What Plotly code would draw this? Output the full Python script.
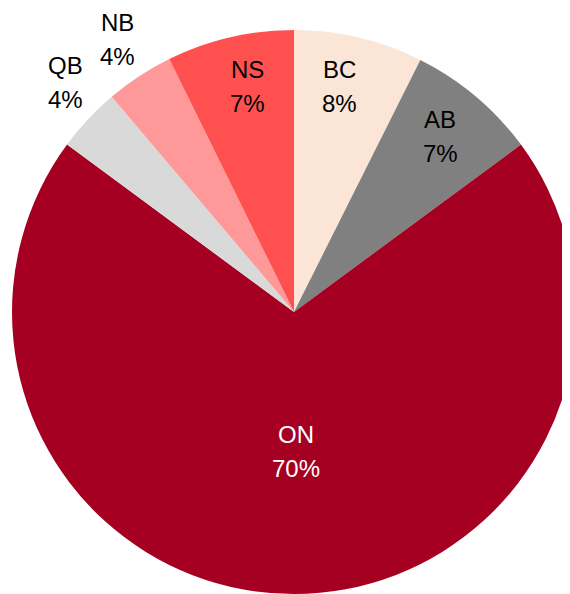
import math
import plotly.graph_objects as go

labels = ["BC", "AB", "ON", "QB", "NB", "NS"]
values = [7.4, 7.5, 70.3, 3.7, 3.9, 7.3]
pct_text = ["8%", "7%", "70%", "4%", "4%", "7%"]
colors = ["#FBE5D6", "#808080", "#A50021", "#D9D9D9", "#FF9999", "#FF5050"]
text_colors = ["black", "black", "white", "black", "black", "black"]

# label placement - style, not data
label_radius = [0.816, 0.811, 0.495, 1.149, 1.152, 0.816]   # fraction of radius
label_angle_frac = [0.43, 0.485, 0.496, 0.65, 0.52, 0.56]    # position within slice
line_gap = 34  # px between the two text lines

W, H = 570, 594
dom_x = [4 / W, 568 / W]
dom_y = [8 / H, 572 / H]

fig = go.Figure(go.Pie(
    labels=labels,
    values=values,
    textinfo="none",
    marker=dict(colors=colors, line=dict(width=0)),
    sort=False,
    direction="clockwise",
    rotation=0,
    showlegend=False,
    hoverinfo="label+percent",
    domain=dict(x=dom_x, y=dom_y),
))

# pie geometry in pixels (plotly: radius = half of smaller domain side)
dw = (dom_x[1] - dom_x[0]) * W
dh = (dom_y[1] - dom_y[0]) * H
R = min(dw, dh) / 2
cx = (dom_x[0] + dom_x[1]) / 2 * W
cy = (dom_y[0] + dom_y[1]) / 2 * H  # from bottom

total = sum(values)
cum = 0.0
for lab, val, pct, tc, rf, af in zip(labels, values, pct_text, text_colors,
                                      label_radius, label_angle_frac):
    ang = (cum + val * af) / total * 2 * math.pi
    cum += val
    px = cx + rf * R * math.sin(ang)
    py = cy + rf * R * math.cos(ang)
    for txt, off in ((lab, line_gap / 2), (pct, -line_gap / 2)):
        fig.add_annotation(
            x=px / W, y=(py + off) / H, xref="paper", yref="paper",
            text=txt, showarrow=False,
            xanchor="center", yanchor="middle", align="center",
            font=dict(family="Liberation Sans", size=24, color=tc),
        )

fig.update_layout(
    width=W, height=H,
    margin=dict(l=0, r=0, t=0, b=0),
    paper_bgcolor="white",
    plot_bgcolor="white",
)

fig.write_html("out.html")
